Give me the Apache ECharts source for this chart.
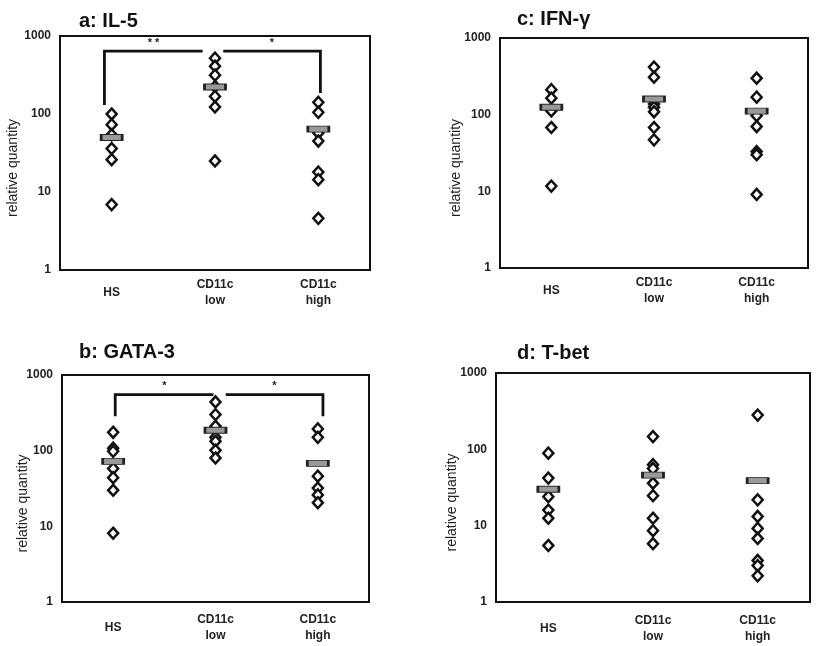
<!DOCTYPE html>
<html>
<head>
<meta charset="utf-8">
<script src="https://cdn.jsdelivr.net/npm/echarts@6/dist/echarts.min.js"></script>
<style>
  html, body { margin: 0; padding: 0; background: #fff; }
  #chart { width: 820px; height: 646px; }
</style>
</head>
<body>
<div id="chart"></div>
<script>
// groups on the x axis
var categories = ['HS', 'CD11c\nlow', 'CD11c\nhigh'];
var yTicks = [1, 10, 100, 1000];

// a: IL-5
var il5HS = [100, 73, 54, 36, 26, 6.9];
var il5Low = [520, 410, 315, 225, 168, 123, 25];
var il5High = [141, 105, 57, 45, 18, 14.4, 4.6];
var il5Median = [50, 222, 64];

// b: GATA-3
var gataHS = [175, 108, 98, 58, 44, 30, 8.1];
var gataLow = [440, 300, 210, 150, 133, 101, 80];
var gataHigh = [194, 150, 46, 32, 26, 20.5];
var gataMedian = [72, 186, 68];

// c: IFN-γ
var ifnHS = [212, 164, 112, 68, 11.7];
var ifnLow = [417, 308, 138, 125, 109, 68, 47];
var ifnHigh = [299, 169, 97, 70, 33, 30, 9.1];
var ifnMedian = [125, 160, 111];

// d: T-bet
var tbetHS = [89, 42, 24, 16, 12.5, 5.5];
var tbetLow = [147, 63, 56, 36, 24.7, 12.5, 8.6, 5.8];
var tbetHigh = [281, 21.8, 13.2, 9.2, 6.8, 3.5, 3.0, 2.2];
var tbetMedian = [30, 46, 39];

// significance brackets: [cat1, offset1, cat2, offset2, top, leg1, leg2, label]
var il5Brackets = [
  [0, -0.07, 1, -0.12, 640, 130, 640, '* *'],
  [1, 0.08, 2, 0.02, 640, 640, 186, '*']
];
var gataBrackets = [
  [0, 0.02, 1, -0.02, 550, 285, 550, '*'],
  [1, 0.1, 2, 0.05, 550, 550, 285, '*']
];

var font = 'Liberation Sans, Arial, sans-serif';

var panels = [
  { title: 'a: IL-5', tl: 74, tt: 6, nameGap: 40, labelMargin: 23,
    grid: { left: 60, top: 36, width: 310, height: 234 },
    groups: [il5HS, il5Low, il5High], median: il5Median, brackets: il5Brackets },
  { title: 'b: GATA-3', tl: 74, tt: 337, nameGap: 32, labelMargin: 26,
    grid: { left: 62, top: 375, width: 307, height: 227 },
    groups: [gataHS, gataLow, gataHigh], median: gataMedian, brackets: gataBrackets },
  { title: 'c: IFN-\u03b3', tl: 512, tt: 4, nameGap: 37, labelMargin: 23,
    grid: { left: 500, top: 38, width: 308, height: 230 },
    groups: [ifnHS, ifnLow, ifnHigh], median: ifnMedian, brackets: null },
  { title: 'd: T-bet', tl: 512, tt: 338, nameGap: 37, labelMargin: 27,
    grid: { left: 496, top: 373, width: 314, height: 229 },
    groups: [tbetHS, tbetLow, tbetHigh], median: tbetMedian, brackets: null }
];

var titles = [], grids = [], xAxes = [], yAxes = [], series = [];

panels.forEach(function (p, i) {
  titles.push({
    text: p.title, left: p.tl, top: p.tt,
    textStyle: { fontFamily: font, fontSize: 20, fontWeight: 'bold', color: '#111' }
  });
  grids.push(Object.assign({ show: true, borderColor: '#111', borderWidth: 2, backgroundColor: '#fff' }, p.grid));
  xAxes.push({
    type: 'category', gridIndex: i, data: categories, boundaryGap: true,
    axisLine: { show: false }, axisTick: { show: false }, splitLine: { show: false },
    axisLabel: { margin: p.labelMargin, verticalAlign: 'middle', fontFamily: font, fontSize: 12,
                 fontWeight: 'bold', color: '#222', lineHeight: 16 }
  });
  yAxes.push({
    type: 'log', logBase: 10, gridIndex: i, min: yTicks[0], max: yTicks[yTicks.length - 1],
    name: 'relative quantity', nameLocation: 'middle', nameGap: p.nameGap, nameMoveOverlap: false,
    nameTextStyle: { fontFamily: font, fontSize: 14, color: '#222', padding: [0, 30, 0, 0] },
    axisLine: { show: false }, axisTick: { show: false }, splitLine: { show: false },
    axisLabel: { margin: 9, fontFamily: font, fontSize: 12, fontWeight: 'bold', color: '#222',
                 formatter: function (v) { return String(v); } }
  });

  var pts = [];
  p.groups.forEach(function (g, c) {
    g.forEach(function (v) { pts.push([c, v]); });
  });
  series.push({
    type: 'scatter', xAxisIndex: i, yAxisIndex: i, data: pts,
    symbol: 'diamond', symbolSize: [10, 11],
    itemStyle: { color: '#fff', borderColor: '#111', borderWidth: 2.5, opacity: 1 },
    silent: true, z: 3
  });
  series.push({
    type: 'scatter', xAxisIndex: i, yAxisIndex: i,
    data: p.median.map(function (v, c) { return [c, v]; }),
    symbol: 'rect', symbolSize: [21, 6],
    itemStyle: { color: '#999', borderColor: '#222', borderWidth: 1.5, opacity: 1 },
    silent: true, z: 4
  });

  if (p.brackets) {
    series.push({
      type: 'custom', xAxisIndex: i, yAxisIndex: i, silent: true, z: 5, clip: false,
      data: p.brackets,
      encode: { x: 0, y: 4 },
      renderItem: function (params, api) {
        var band = api.size([1, 0])[0];
        var a = api.coord([api.value(0), api.value(4)]);
        var b = api.coord([api.value(2), api.value(4)]);
        var x1 = a[0] + api.value(1) * band;
        var x2 = b[0] + api.value(3) * band;
        var top = a[1];
        var l1 = api.coord([api.value(0), api.value(5)])[1];
        var l2 = api.coord([api.value(2), api.value(6)])[1];
        return {
          type: 'group',
          children: [
            { type: 'polyline', shape: { points: [[x1, l1], [x1, top], [x2, top], [x2, l2]] },
              style: { stroke: '#111', lineWidth: 2.8, fill: null } },
            { type: 'text', x: (x1 + x2) / 2, y: top - 3,
              style: { text: p.brackets[params.dataIndex][7], fill: '#222', font: 'bold 11px ' + font,
                       textAlign: 'center', textVerticalAlign: 'bottom' } }
          ]
        };
      }
    });
  }
});

var chart = echarts.init(document.getElementById('chart'));
chart.setOption({
  animation: false,
  backgroundColor: '#fff',
  title: titles,
  grid: grids,
  xAxis: xAxes,
  yAxis: yAxes,
  series: series
});
</script>
</body>
</html>
